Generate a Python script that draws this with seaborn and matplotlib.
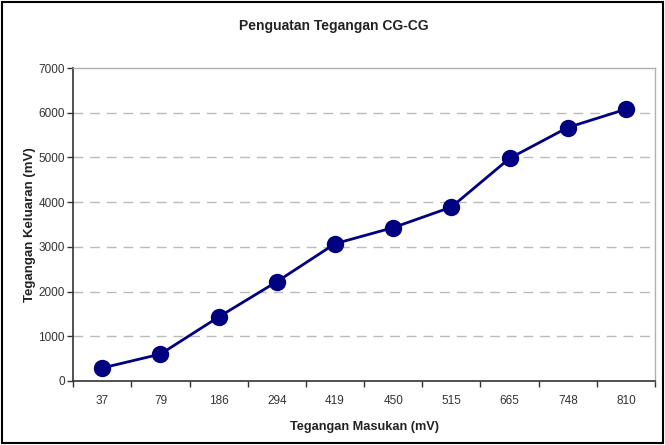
import numpy as np
import matplotlib
matplotlib.use('Agg')
import matplotlib.pyplot as plt
from matplotlib.patches import Rectangle
from matplotlib.ticker import FixedLocator, NullFormatter
import seaborn as sns

# data
tegangan_masukan = ['37', '79', '186', '294', '419', '450', '515', '665', '748', '810']
tegangan_keluaran = [290, 600, 1430, 2220, 3070, 3430, 3890, 4980, 5670, 6080]

sns.set_style('white')
plt.rcParams['font.family'] = ['Liberation Sans', 'DejaVu Sans']

fig = plt.figure(figsize=(6.65, 4.45), dpi=100)
ax = fig.add_axes([0.110, 0.144, 0.875, 0.703])

sns.pointplot(x=tegangan_masukan, y=tegangan_keluaran, order=tegangan_masukan,
              color='#000080', markers='o', markersize=11, linewidth=2, ax=ax)

ax.set_ylim(0, 7000)
ax.set_xlim(-0.5, len(tegangan_masukan) - 0.5)
ax.set_yticks(np.arange(0, 7001, 1000))
ax.tick_params(axis='y', labelsize=8.5, length=4, width=1, direction='out',
               left=True, colors='#333333', pad=2)
ax.tick_params(axis='x', which='major', labelsize=8.5, length=0, pad=10, colors='#333333')
ax.xaxis.set_minor_locator(FixedLocator(np.arange(-0.5, len(tegangan_masukan), 1.0)))
ax.xaxis.set_minor_formatter(NullFormatter())
ax.tick_params(axis='x', which='minor', length=4, width=1, direction='out',
               bottom=True, color='#333333')

for y in range(1000, 7000, 1000):
    ax.axhline(y, color='#bbbbbb', lw=1, ls=(0, (7, 5)), zorder=0)

for side in ['top', 'right']:
    ax.spines[side].set_color('#b0b0b0')
    ax.spines[side].set_linewidth(1)
for side in ['left', 'bottom']:
    ax.spines[side].set_color('#333333')
    ax.spines[side].set_linewidth(1.2)

ax.set_xlabel('Tegangan Masukan (mV)', fontsize=9.2, fontweight='bold', labelpad=10,
              color='#222222')
ax.set_ylabel('Tegangan Keluaran (mV)', fontsize=9.5, fontweight='bold', labelpad=2,
              color='#222222')
fig.text(0.502, 0.933, 'Penguatan Tegangan CG-CG', ha='center', va='baseline',
         fontsize=10, fontweight='bold', color='#222222')

fig.patches.append(Rectangle((0.003, 0.004), 0.994, 0.992, transform=fig.transFigure,
                             fill=False, edgecolor='black', lw=1.5))

fig.savefig('out.png', dpi=100)
